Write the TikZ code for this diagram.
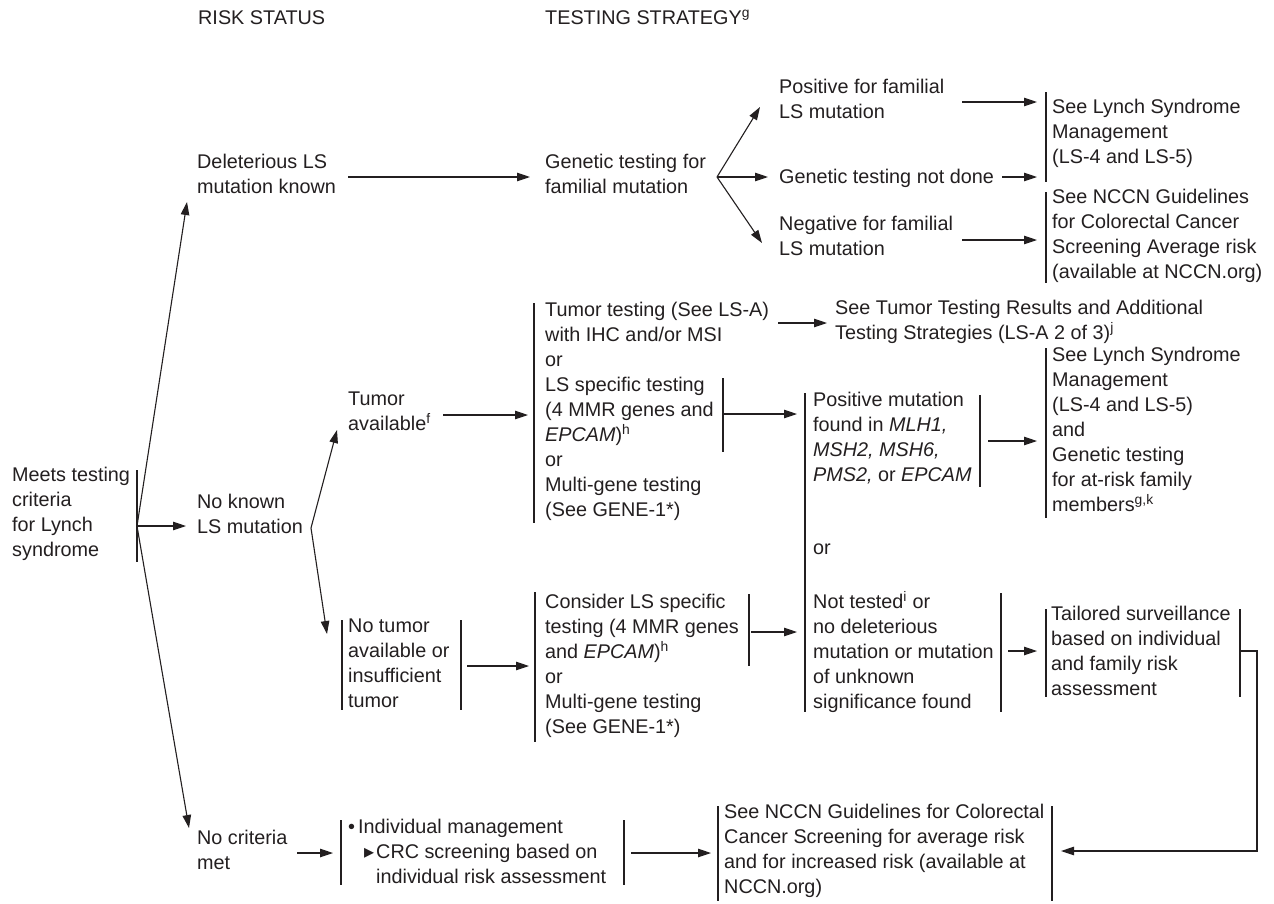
\documentclass[tikz,border=0pt]{standalone}
\usepackage{fontspec}
\setmainfont{Liberation Sans}
\newfontfamily\djv{DejaVu Sans}
\usetikzlibrary{arrows.meta}
\definecolor{ink}{RGB}{35,31,32}
\tikzset{
  lbl/.style={anchor=north west, inner sep=0pt, align=left, text=ink,
    execute at begin node=\strut, execute at end node=\strut},
  ln/.style={draw=ink, line width=1.1pt},
  arr/.style={ln, -{Triangle[length=13pt,width=8.5pt]}},
}
\begin{document}
\begin{tikzpicture}[x=1pt,y=-1pt,font=\fontsize{19.8}{25}\selectfont]
\useasboundingbox (0,0) rectangle (1274,903);
\fill[white] (0,0) rectangle (1274,903);

% headers
\node[lbl] (h1) at (198,7) {RISK STATUS};
\node[lbl] (h2) at (545,7) {TESTING STRATEGY\textsuperscript{g}};

% column 0 and 1
\node[lbl] (meets) at (12,467) {Meets testing\\criteria\\for Lynch\\syndrome};
\node[lbl] (delet) at (197,154) {Deleterious LS\\mutation known};
\node[lbl] (noknown) at (197,494) {No known\\LS mutation};
\node[lbl] (nocrit) at (197,830) {No criteria\\met};

% top branch
\node[lbl] (gentest) at (545,154) {Genetic testing for\\familial mutation};
\node[lbl] (pos) at (779,79) {Positive for familial\\LS mutation};
\node[lbl] (notdone) at (779,166) {Genetic testing not done};
\node[lbl] (neg) at (779,216) {Negative for familial\\LS mutation};
\node[lbl] (lynch1) at (1052,99) {See Lynch Syndrome\\Management\\(LS-4 and LS-5)};
\node[lbl] (nccn1) at (1052,189) {See NCCN Guidelines\\for Colorectal Cancer\\Screening Average risk\\(available at NCCN.org)};

% middle branch
\node[lbl] (tumor) at (348,392) {Tumor\\available\textsuperscript{f}};
\node[lbl] (notumor) at (348,619) {No tumor\\available or\\insufficient\\tumor};
\node[lbl] (tt) at (545,302) {Tumor testing (See LS-A)\\with IHC and/or MSI\\or\\LS specific testing\\(4 MMR genes and\\\textit{EPCAM})\textsuperscript{h}\\or\\Multi-gene testing\\(See GENE-1*)};
\node[lbl] (ttres) at (835,300) {See Tumor Testing Results and Additional\\Testing Strategies (LS-A 2 of 3)\textsuperscript{j}};
\node[lbl] (consider) at (545,594) {Consider LS specific\\testing (4 MMR genes\\and \textit{EPCAM})\textsuperscript{h}\\or\\Multi-gene testing\\(See GENE-1*)};
\node[lbl] (posmut) at (813,392) {Positive mutation\\found in \textit{MLH1,}\\\textit{MSH2, MSH6,}\\\textit{PMS2,} or \textit{EPCAM}};
\node[lbl] (or3) at (813,537) {or};
\node[lbl] (nottested) at (813,591) {Not tested\textsuperscript{i} or\\no deleterious\\mutation or mutation\\of unknown\\significance found};
\node[lbl] (lynch2) at (1052,347) {See Lynch Syndrome\\Management\\(LS-4 and LS-5)\\and\\Genetic testing\\for at-risk family\\members\textsuperscript{g,k}};
\node[lbl] (tailored) at (1051,606) {Tailored surveillance\\based on individual\\and family risk\\assessment};

% bottom branch
\node[lbl] (indiv) at (348,819) {\makebox[10pt][l]{\textbullet}Individual management\\\hspace*{16pt}\makebox[12pt][l]{{\djv\fontsize{20}{20}\selectfont ▸}}CRC screening based on\\\hspace*{28pt}individual risk assessment};
\node[lbl] (nccn2) at (724,804) {See NCCN Guidelines for Colorectal\\Cancer Screening for average risk\\and for increased risk (available at\\NCCN.org)};

% bars
\draw[ln] (137,470) -- (137,562);
\draw[ln] (1046,92) -- (1046,182);
\draw[ln] (1046,192) -- (1046,283);
\draw[ln] (534,303) -- (534,523);
\draw[ln] (723,378) -- (723,452);
\draw[ln] (342,620) -- (342,710);
\draw[ln] (461,620) -- (461,710);
\draw[ln] (535,592) -- (535,742);
\draw[ln] (749,594) -- (749,666);
\draw[ln] (805,393) -- (805,712);
\draw[ln] (980,395) -- (980,487);
\draw[ln] (1001,593) -- (1001,712);
\draw[ln] (1046,348) -- (1046,518);
\draw[ln] (1046,609) -- (1046,697);
\draw[ln] (1240,609) -- (1240,697);
\draw[ln] (341,820) -- (341,885);
\draw[ln] (624,820) -- (624,885);
\draw[ln] (718,806) -- (718,901);
\draw[ln] (1052,806) -- (1052,901);

% connector points
\coordinate (o0) at (137,526);
\coordinate (o1) at (311,528);
\coordinate (o2) at (717,177);

% arrows
\draw[arr] (o0) -- (187,202);
\draw[arr] (o0) -- (186,526);
\draw[arr] (o0) -- (189,828);
\draw[arr] (348,177) -- (530,177);
\draw[arr] (o2) -- (760,107);
\draw[arr] (o2) -- (768,177);
\draw[arr] (o2) -- (762,243);
\draw[arr] (962,102) -- (1037,102);
\draw[arr] (1002,177) -- (1037,177);
\draw[arr] (962,240) -- (1037,240);
\draw[arr] (o1) -- (337,430);
\draw[arr] (o1) -- (327,634);
\draw[arr] (443,415) -- (528,415);
\draw[arr] (778,323) -- (827,323);
\draw[arr] (723,414) -- (797,414);
\draw[arr] (988,441) -- (1037,441);
\draw[arr] (467,666) -- (529,666);
\draw[arr] (751,632) -- (797,632);
\draw[arr] (1008,651) -- (1037,651);
\draw[arr] (1240,651) -- (1257,651) -- (1257,851) -- (1061,851);
\draw[arr] (297,853) -- (333,853);
\draw[arr] (631,853) -- (711,853);
\end{tikzpicture}
\end{document}
